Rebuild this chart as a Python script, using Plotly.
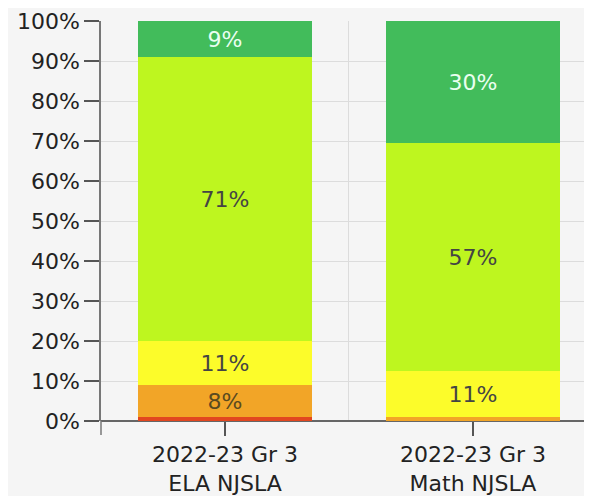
import plotly.graph_objects as go

categories = ["2022-23 Gr 3<br>ELA NJSLA", "2022-23 Gr 3<br>Math NJSLA"]

# stacked bottom -> top, percent of students
level_names = ["Level 1", "Level 2", "Level 3", "Level 4", "Level 5"]
level_values = [
    [1, 0],      # red
    [8, 1],      # orange
    [11, 11.5],  # yellow
    [71, 57],    # lime
    [9, 30.5],   # green
]
level_labels = [
    ["", ""],
    ["8%", ""],
    ["11%", "11%"],
    ["71%", "57%"],
    ["9%", "30%"],
]
level_colors = ["#e2471f", "#f2a527", "#fcfc2a", "#bef61f", "#42bc5b"]
label_colors = ["#333333", "#5a4a20", "#444444", "#444444", "#eafff0"]

y_ticks = [0, 10, 20, 30, 40, 50, 60, 70, 80, 90, 100]
y_ticktext = [f"{v}%" for v in y_ticks]

FONT = "DejaVu Sans, Verdana, sans-serif"

fig = go.Figure()
x_pos = list(range(len(categories)))
for name, vals, labels, color, tcolor in zip(
    level_names, level_values, level_labels, level_colors, label_colors
):
    fig.add_trace(
        go.Bar(
            x=x_pos,
            y=vals,
            name=name,
            width=0.7,
            marker={"color": color, "line": {"width": 0}},
            text=labels,
            textposition="inside",
            insidetextanchor="middle",
            textangle=0,
            textfont={"family": FONT, "size": 22, "color": tcolor},
            hoverinfo="skip",
        )
    )

fig.update_layout(
    barmode="stack",
    width=584,
    height=488,
    showlegend=False,
    paper_bgcolor="#f5f5f5",
    plot_bgcolor="#f5f5f5",
    margin={"l": 93, "r": 0, "t": 13, "b": 72},
    font={"family": FONT, "size": 22, "color": "#333333"},
    uniformtext={"mode": "show", "minsize": 10},
)
fig.update_xaxes(
    range=[-0.5, 1.48],
    tickvals=x_pos,
    ticktext=categories,
    showgrid=False,
    zeroline=False,
    showline=False,
    ticks="outside",
    ticklen=14,
    tickwidth=1.5,
    tickcolor="#555555",
    tickfont={"size": 22, "color": "#222222"},
    minor={"tick0": 0.5, "dtick": 1, "showgrid": True, "gridcolor": "#dcdcdc"},
)
fig.update_yaxes(
    range=[0, 100],
    tickvals=y_ticks,
    ticktext=y_ticktext,
    showgrid=True,
    gridcolor="#dcdcdc",
    zeroline=True,
    zerolinecolor="#666666",
    zerolinewidth=1.5,
    showline=True,
    linecolor="#777777",
    linewidth=1.5,
    ticks="outside",
    ticklen=15,
    tickwidth=1.5,
    tickcolor="#555555",
    tickfont={"size": 22, "color": "#222222"},
)
# y axis line continues a little below the baseline
fig.add_shape(
    type="line",
    xref="paper",
    yref="paper",
    x0=0,
    x1=0,
    y0=0,
    y1=-0.035,
    line={"color": "#777777", "width": 1.5},
)

fig.write_html("out.html")
